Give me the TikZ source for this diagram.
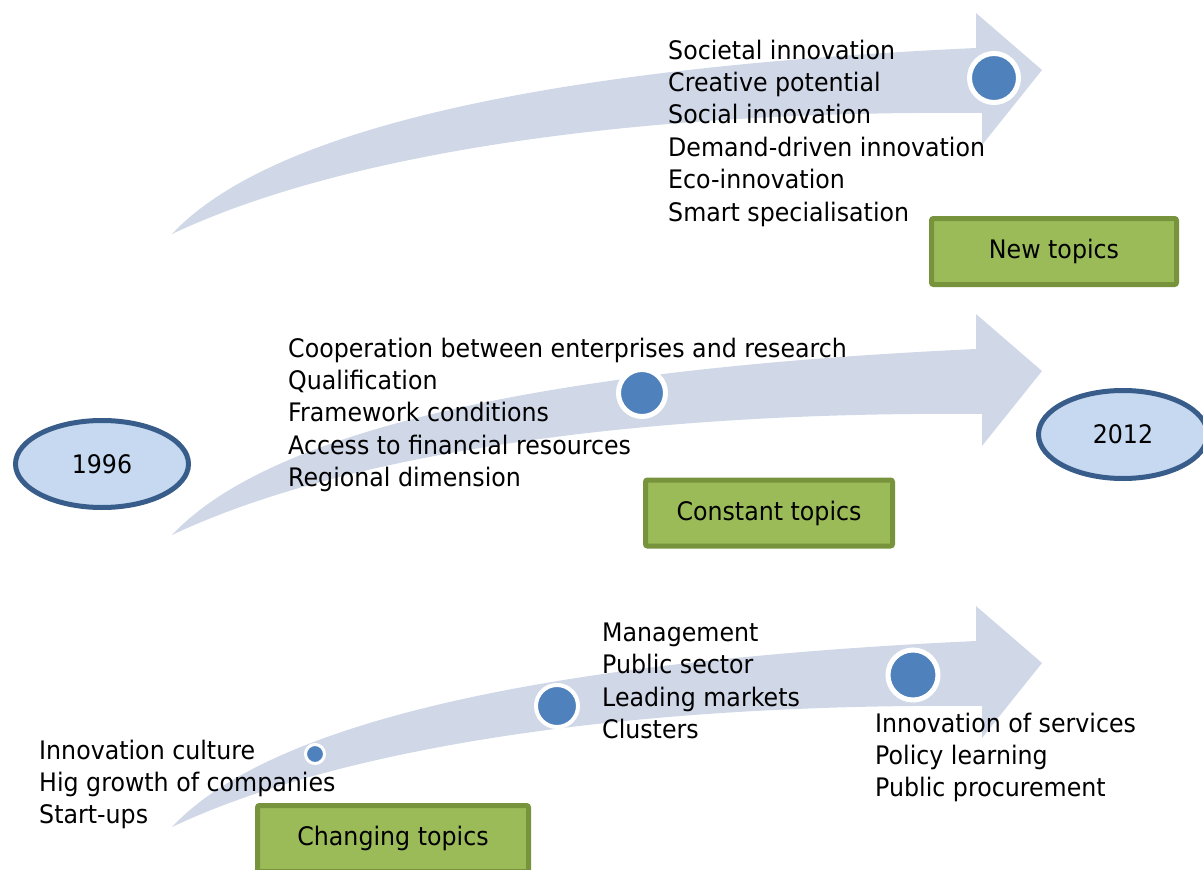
\documentclass[tikz,border=0pt]{standalone}
\usepackage{fontspec}
\setmainfont[FakeStretch=0.93]{DejaVu Sans}
\usetikzlibrary{shapes.geometric}
\definecolor{arrowfill}{HTML}{D0D8E8}
\definecolor{dotblue}{HTML}{4F81BD}
\definecolor{yearfill}{HTML}{C6D9F1}
\definecolor{yearline}{HTML}{385D8A}
\definecolor{boxfill}{HTML}{9BBB59}
\definecolor{boxline}{HTML}{77933C}
\newcommand{\topicsize}{\fontsize{25.5pt}{32.4pt}\selectfont}

\begin{document}
\begin{tikzpicture}[x=1pt,y=-1pt,
    topics/.style={anchor=north west,align=left,inner sep=0pt,font=\topicsize},
    dot/.style={circle,fill=dotblue,draw=white,inner sep=0pt,line width=5pt},
    year/.style={ellipse,fill=yearfill,draw=yearline,line width=5pt,font=\topicsize},
    topicbox/.style={rectangle,rounded corners=2pt,fill=boxfill,draw=boxline,line width=5pt,minimum height=66pt,font=\topicsize}]
    \useasboundingbox (0,0) rectangle (1203,870);
    \foreach \s in {0,301,593}
        \fill[arrowfill,shift={(0,\s)}] (172,234) .. controls (260,140) and (500,70) .. (976,48)
            -- (976,13) -- (1042,70) -- (982,145) -- (982,113)
            .. controls (650,110) and (350,150) .. (172,234) -- cycle;
    \node[dot,minimum size=49pt] (d1) at (994,78) {};
    \node[dot,minimum size=47pt] (d2) at (642,393) {};
    \node[dot,minimum size=19pt,line width=3pt] (d3) at (315,754) {};
    \node[dot,minimum size=42pt,line width=4pt] (d4) at (557,706) {};
    \node[dot,minimum size=50pt] (d5) at (913,675) {};
    \node[topics] (newlist) at (668,39.6) {Societal innovation\\Creative potential\\Social innovation\\Demand-driven innovation\\Eco-innovation\\Smart specialisation};
    \node[topics] (constlist) at (288,337.6) {Cooperation between enterprises and research\\Qualification\\Framework conditions\\Access to financial resources\\Regional dimension};
    \node[topics] (midlist) at (602,622.6) {Management\\Public sector\\Leading markets\\Clusters};
    \node[topics] (laterlist) at (875,712.6) {Innovation of services\\Policy learning\\Public procurement};
    \node[topics] (earlylist) at (39,739.6) {Innovation culture\\Hig growth of companies\\Start-ups};
    \node[topicbox,minimum width=245pt] (newbox) at (1054,251.5) {New topics};
    \node[topicbox,minimum width=247pt] (constbox) at (769,513) {Constant topics};
    \node[topicbox,minimum width=271pt] (changebox) at (393,838.5) {Changing topics};
    \node[year,minimum width=173pt,minimum height=87pt] (y1996) at (102,464) {1996};
    \node[year,minimum width=169pt,minimum height=88pt] (y2012) at (1123,434.5) {2012};
\end{tikzpicture}
\end{document}
